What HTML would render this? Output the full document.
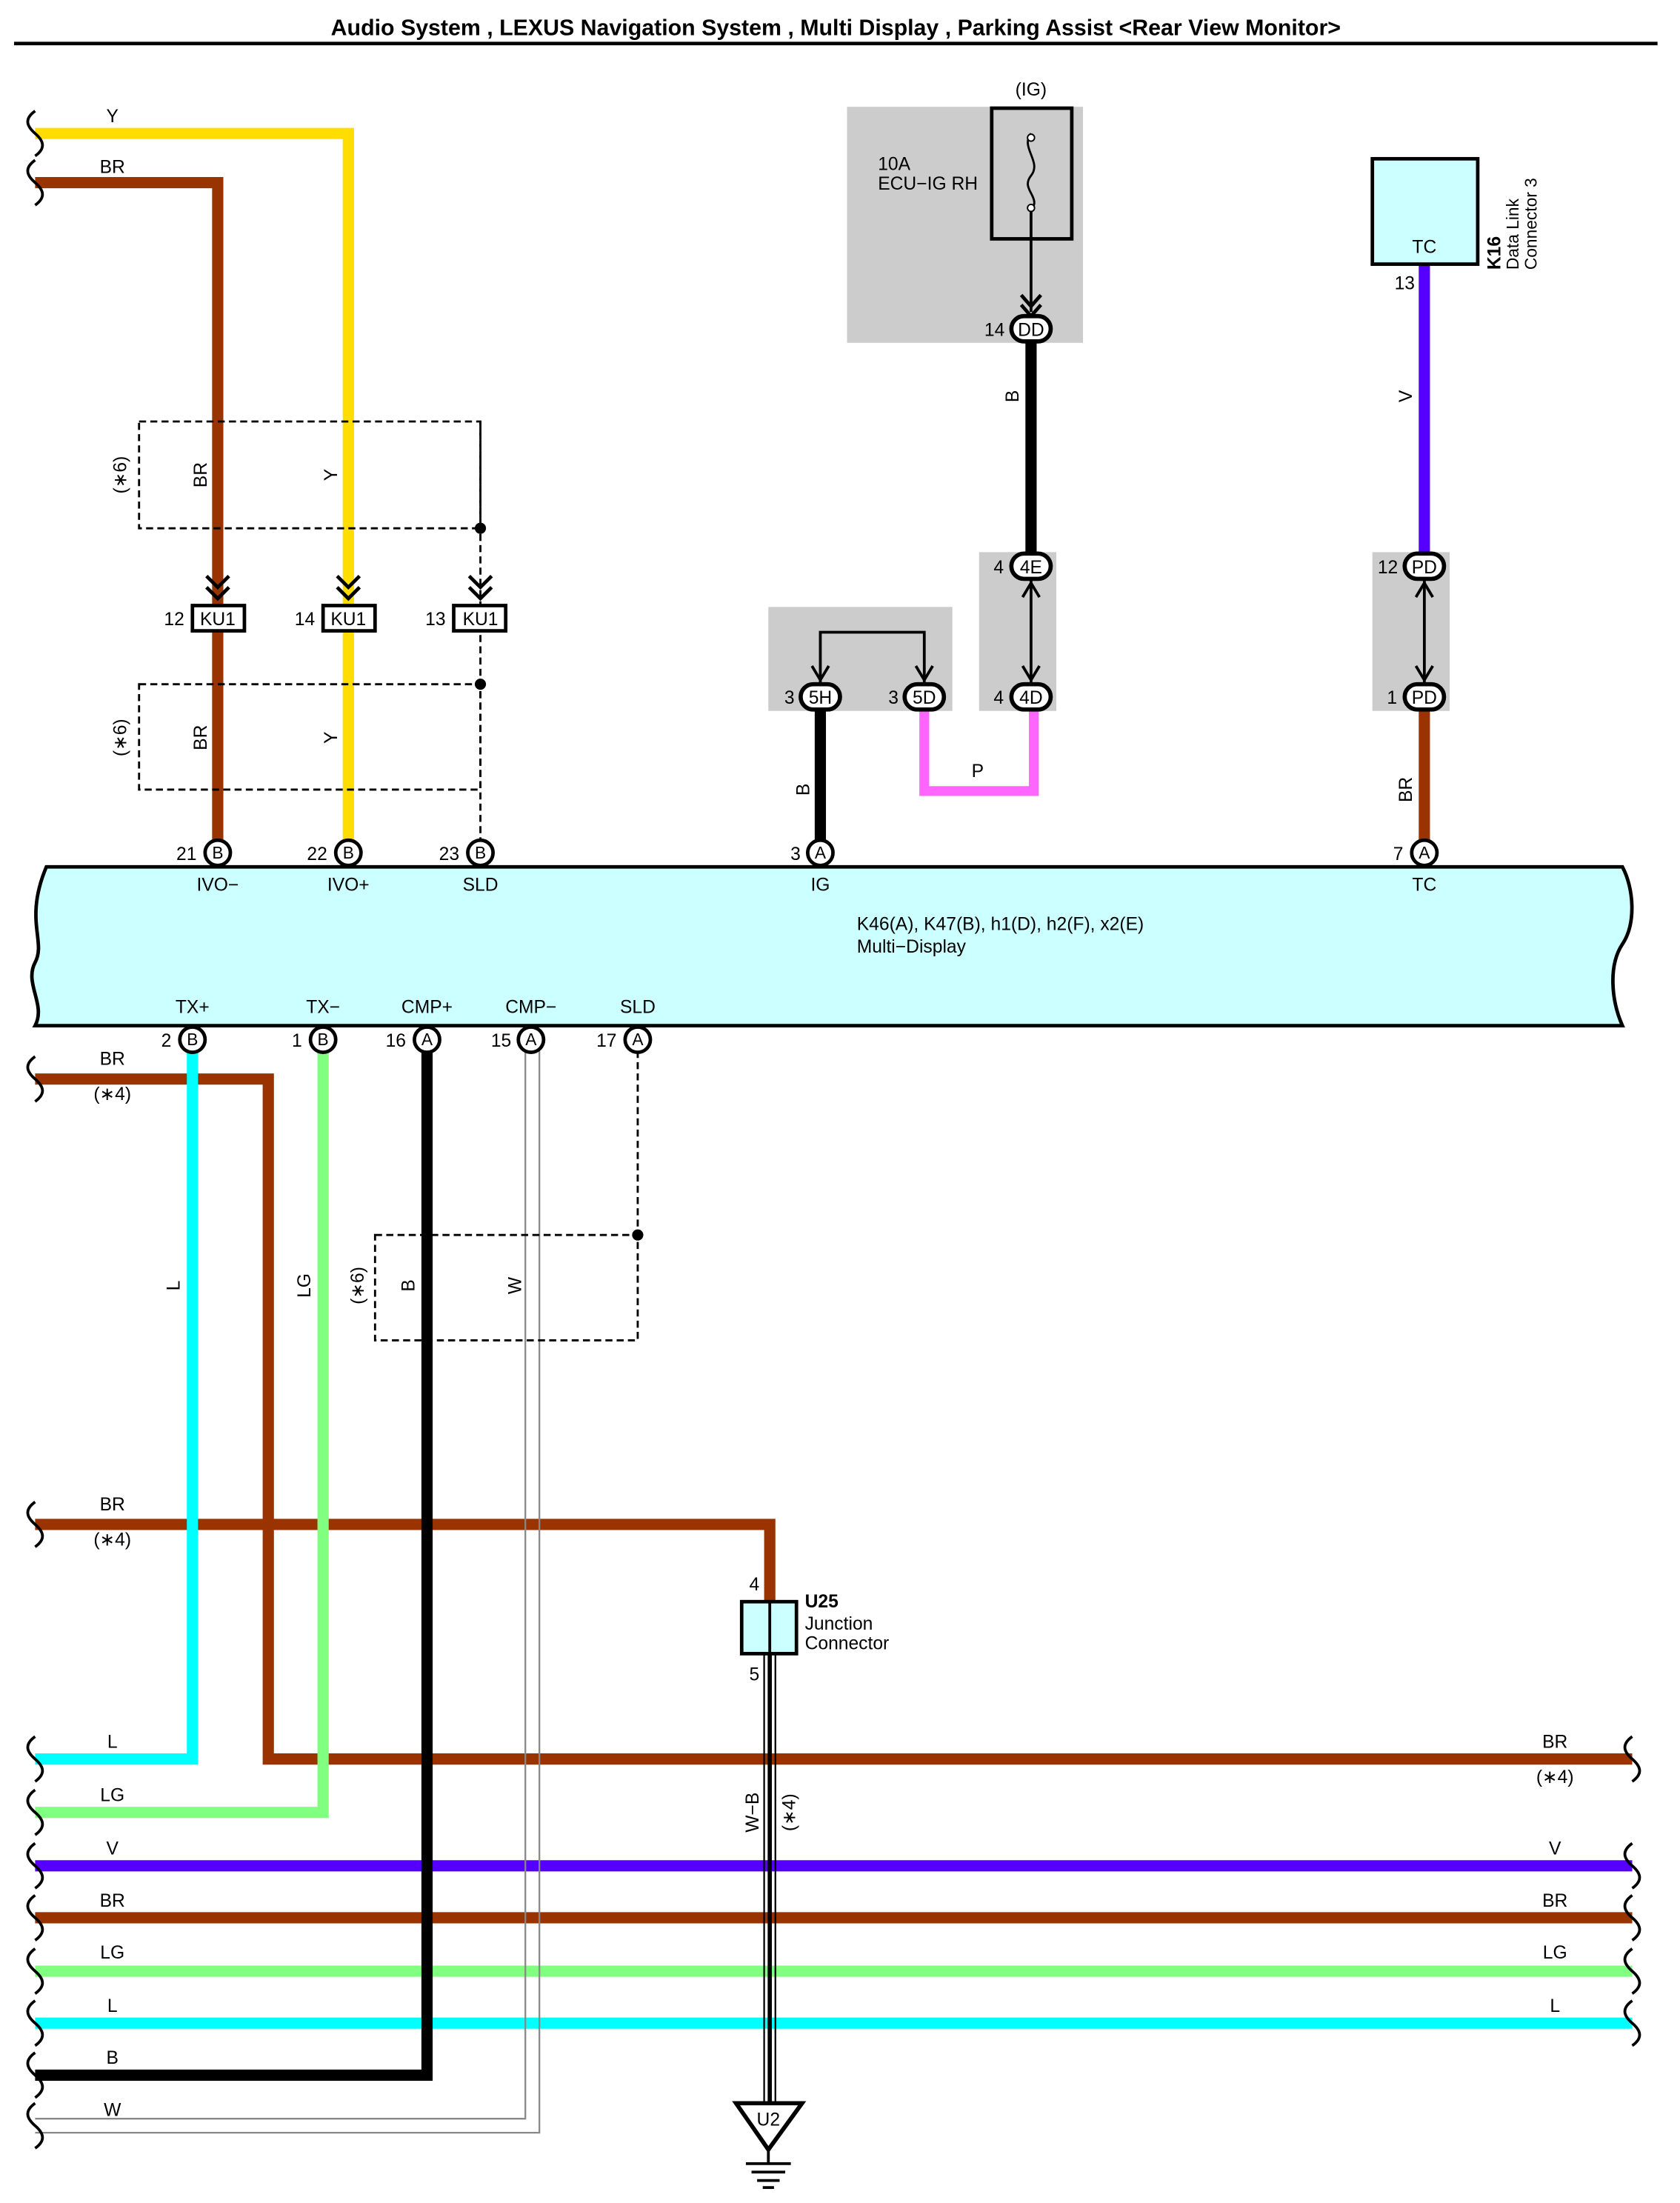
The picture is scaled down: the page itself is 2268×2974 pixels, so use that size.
<!DOCTYPE html>
<html><head><meta charset="utf-8"><style>
html,body{margin:0;padding:0;background:#fff}
svg{display:block}
text{font-family:"Liberation Sans",sans-serif;font-size:13px;fill:#000}
</style></head><body>
<svg width="2268" height="2974" viewBox="0 0 1196 1568" preserveAspectRatio="none" xmlns="http://www.w3.org/2000/svg">
<defs>
<g id="brk"><path d="M0,-16 c-7,5 -7,10 0,16 c7,6 7,11 0,16" fill="none" stroke="#000" stroke-width="2"/></g>
</defs>
<text x="595" y="25" text-anchor="middle" font-weight="bold" style="font-size:16px">Audio System , LEXUS Navigation System , Multi Display , Parking Assist &lt;Rear View Monitor&gt;</text>
<line x1="10" y1="31" x2="1180" y2="31" stroke="#000" stroke-width="2.5"/>

<rect x="603" y="76" width="168" height="168" fill="#ccc"/>
<rect x="697" y="393" width="55" height="113" fill="#ccc"/>
<rect x="547" y="432" width="131" height="74" fill="#ccc"/>
<rect x="977" y="393" width="55" height="113" fill="#ccc"/>

<g fill="none" stroke-linejoin="miter">
<path d="M25,95 H248 V607" stroke="#ffdd00" stroke-width="8"/>
<path d="M25,130 H155 V607" stroke="#993300" stroke-width="8"/>
<path d="M734,244 V403" stroke="#000" stroke-width="8"/>
<path d="M1014,188 V403" stroke="#5500ff" stroke-width="8"/>
<path d="M1014,506 V607" stroke="#993300" stroke-width="8"/>
<path d="M584,506 V607" stroke="#000" stroke-width="8"/>
<path d="M658,506 V563 H736 V506" stroke="#ff66ff" stroke-width="7"/>
</g>
<use href="#brk" x="25" y="95"/><use href="#brk" x="25" y="130"/>
<text x="80" y="87" text-anchor="middle">Y</text>
<text x="80" y="123" text-anchor="middle">BR</text>

<g fill="none" stroke="#000" stroke-width="1.5" stroke-dasharray="5,3">
<rect x="99" y="300" width="243" height="76"/>
<rect x="99" y="487" width="243" height="75"/>
<line x1="342" y1="300" x2="342" y2="599"/>
</g>
<circle cx="342" cy="376" r="4"/><circle cx="342" cy="487" r="4"/>
<g text-anchor="middle">
<text transform="translate(90,338) rotate(-90)">(∗6)</text>
<text transform="translate(147,338) rotate(-90)">BR</text>
<text transform="translate(240,338) rotate(-90)">Y</text>
<text transform="translate(90,525) rotate(-90)">(∗6)</text>
<text transform="translate(147,525) rotate(-90)">BR</text>
<text transform="translate(240,525) rotate(-90)">Y</text>
</g>
<g fill="none" stroke="#000" stroke-width="2.5">
<path d="M147,410 l8,8 l8,-8 M147,418 l8,8 l8,-8"/>
<path d="M240,410 l8,8 l8,-8 M240,418 l8,8 l8,-8"/>
<path d="M334,410 l8,8 l8,-8 M334,418 l8,8 l8,-8"/>
</g>
<g stroke="#000" stroke-width="2.5" fill="#fff">
<rect x="137" y="431" width="37" height="18"/>
<rect x="230" y="431" width="37" height="18"/>
<rect x="323" y="431" width="37" height="18"/>
</g>
<g text-anchor="middle">
<text x="155" y="445">KU1</text><text x="248" y="445">KU1</text><text x="342" y="445">KU1</text>
<text x="124" y="445">12</text><text x="217" y="445">14</text><text x="310" y="445">13</text>
</g>

<rect x="706" y="77" width="57" height="93" fill="none" stroke="#000" stroke-width="2.5"/>
<path d="M734,95 c-8,10 8,20 0,30 c-8,10 8,15 0,25" fill="none" stroke="#000" stroke-width="1.5"/>
<circle cx="734" cy="98" r="2.5" fill="#fff" stroke="#000"/><circle cx="734" cy="148" r="2.5" fill="#fff" stroke="#000"/>
<line x1="734" y1="150" x2="734" y2="222" stroke="#000" stroke-width="2"/>
<path d="M727,210 l7,8 l7,-8 M727,217 l7,8 l7,-8" fill="none" stroke="#000" stroke-width="2.5"/>
<text x="734" y="68" text-anchor="middle">(IG)</text>
<text x="625" y="121">10A</text><text x="625" y="135">ECU−IG RH</text>
<text transform="translate(725,282) rotate(-90)" text-anchor="middle">B</text>
<text transform="translate(1005,282) rotate(-90)" text-anchor="middle">V</text>
<text transform="translate(576,562) rotate(-90)" text-anchor="middle">B</text>
<text transform="translate(1005,562) rotate(-90)" text-anchor="middle">BR</text>
<text x="696" y="553" text-anchor="middle">P</text>

<g stroke="#000" stroke-width="2" fill="none">
<line x1="734" y1="413" x2="734" y2="486"/>
<path d="M728,425 l6,-10 l6,10 M728,474 l6,10 l6,-10"/>
<line x1="1014" y1="413" x2="1014" y2="486"/>
<path d="M1008,425 l6,-10 l6,10 M1008,474 l6,10 l6,-10"/>
<path d="M584,486 V450 H658 V486"/>
<path d="M578,474 l6,10 l6,-10 M652,474 l6,10 l6,-10"/>
</g>

<g stroke="#000" stroke-width="3" fill="#fff">
<rect x="720" y="225" width="28" height="18" rx="9"/>
<rect x="720" y="394" width="28" height="18" rx="9"/>
<rect x="720" y="487" width="28" height="18" rx="9"/>
<rect x="570" y="487" width="28" height="18" rx="9"/>
<rect x="644" y="487" width="28" height="18" rx="9"/>
<rect x="1000" y="394" width="28" height="18" rx="9"/>
<rect x="1000" y="487" width="28" height="18" rx="9"/>
</g>
<g text-anchor="middle">
<text x="734" y="239">DD</text><text x="708" y="239">14</text>
<text x="734" y="408">4E</text><text x="711" y="408">4</text>
<text x="734" y="501">4D</text><text x="711" y="501">4</text>
<text x="584" y="501">5H</text><text x="562" y="501">3</text>
<text x="658" y="501">5D</text><text x="636" y="501">3</text>
<text x="1014" y="408">PD</text><text x="988" y="408">12</text>
<text x="1014" y="501">PD</text><text x="991" y="501">1</text>
</g>

<rect x="977" y="113" width="75" height="75" fill="#ccffff" stroke="#000" stroke-width="2.5"/>
<text x="1014" y="180" text-anchor="middle">TC</text>
<text x="1000" y="206" text-anchor="middle">13</text>
<text transform="translate(1068,192) rotate(-90)" font-weight="bold">K16</text>
<text transform="translate(1081,192) rotate(-90)" style="font-size:12px">Data Link</text>
<text transform="translate(1094,192) rotate(-90)" style="font-size:12px">Connector 3</text>

<path d="M33,617 H1155 c8,15 10,40 0,55 c-10,15 -8,40 0,58 H25 c8,-15 -8,-30 0,-45 c8,-15 -8,-30 8,-68 Z" fill="#ccffff" stroke="#000" stroke-width="2.5"/>
<text x="610" y="662">K46(A), K47(B), h1(D), h2(F), x2(E)</text>
<text x="610" y="678">Multi−Display</text>
<g text-anchor="middle">
<text x="155" y="634">IVO−</text><text x="248" y="634">IVO+</text><text x="342" y="634">SLD</text>
<text x="584" y="634">IG</text><text x="1014" y="634">TC</text>
<text x="137" y="721">TX+</text><text x="230" y="721">TX−</text><text x="304" y="721">CMP+</text><text x="378" y="721">CMP−</text><text x="454" y="721">SLD</text>
</g>

<g fill="none">
<path d="M25,768 H191 V1252 H1162" stroke="#993300" stroke-width="8"/>
<path d="M25,1085 H548 V1140" stroke="#993300" stroke-width="8"/>
<path d="M25,1328 H1162" stroke="#5500ff" stroke-width="8"/>
<path d="M25,1365 H1162" stroke="#993300" stroke-width="8"/>
<path d="M25,1403 H1162" stroke="#80ff80" stroke-width="8"/>
<path d="M25,1440 H1162" stroke="#00ffff" stroke-width="8"/>
<path d="M137,748 V1252 H25" stroke="#00ffff" stroke-width="8"/>
<path d="M230,748 V1290 H25" stroke="#80ff80" stroke-width="8"/>
<path d="M304,748 V1477 H25" stroke="#000" stroke-width="8"/>
<path d="M374,748 V1508 H25 M384,748 V1518 H25" stroke="#888" stroke-width="1.2"/>
<path d="M544,1177 V1497 M552,1177 V1497" stroke="#000" stroke-width="1.2"/>
<path d="M548,1177 V1497" stroke="#000" stroke-width="3"/>
</g>
<line x1="454" y1="748" x2="454" y2="879" stroke="#000" stroke-width="1.5" stroke-dasharray="5,3"/>
<rect x="267" y="879" width="187" height="75" fill="none" stroke="#000" stroke-width="1.5" stroke-dasharray="5,3"/>
<circle cx="454" cy="879" r="4"/>
<g text-anchor="middle">
<text transform="translate(128,915) rotate(-90)">L</text>
<text transform="translate(221,915) rotate(-90)">LG</text>
<text transform="translate(259,915) rotate(-90)">(∗6)</text>
<text transform="translate(295,915) rotate(-90)">B</text>
<text transform="translate(371,915) rotate(-90)">W</text>
<text transform="translate(540,1290) rotate(-90)">W−B</text>
<text transform="translate(566,1290) rotate(-90)">(∗4)</text>
<text x="80" y="758">BR</text><text x="80" y="783">(∗4)</text>
<text x="80" y="1075">BR</text><text x="80" y="1100">(∗4)</text>
<text x="80" y="1244">L</text><text x="80" y="1282">LG</text><text x="80" y="1320">V</text>
<text x="80" y="1357">BR</text><text x="80" y="1394">LG</text><text x="80" y="1432">L</text>
<text x="80" y="1469">B</text><text x="80" y="1506">W</text>
<text x="1107" y="1244">BR</text><text x="1107" y="1269">(∗4)</text>
<text x="1107" y="1320">V</text><text x="1107" y="1357">BR</text><text x="1107" y="1394">LG</text><text x="1107" y="1432">L</text>
</g>
<g>
<use href="#brk" x="25" y="768"/><use href="#brk" x="25" y="1085"/><use href="#brk" x="25" y="1252"/>
<use href="#brk" x="25" y="1290"/><use href="#brk" x="25" y="1328"/><use href="#brk" x="25" y="1365"/>
<use href="#brk" x="25" y="1403"/><use href="#brk" x="25" y="1440"/><use href="#brk" x="25" y="1477"/>
<use href="#brk" x="25" y="1513"/>
<use href="#brk" x="1162" y="1252"/><use href="#brk" x="1162" y="1328"/><use href="#brk" x="1162" y="1365"/>
<use href="#brk" x="1162" y="1403"/><use href="#brk" x="1162" y="1440"/>
</g>

<rect x="528" y="1140" width="39" height="37" fill="#ccffff" stroke="#000" stroke-width="2.5"/>
<line x1="548" y1="1140" x2="548" y2="1177" stroke="#000" stroke-width="2"/>
<text x="537" y="1132" text-anchor="middle">4</text>
<text x="537" y="1196" text-anchor="middle">5</text>
<text x="573" y="1144" font-weight="bold">U25</text>
<text x="573" y="1160">Junction</text>
<text x="573" y="1174">Connector</text>

<path d="M524,1497 H571 L547,1530 Z" fill="#fff" stroke="#000" stroke-width="3"/>
<text x="547" y="1513" text-anchor="middle">U2</text>
<g stroke="#000" stroke-width="2">
<line x1="547" y1="1530" x2="547" y2="1540"/>
<line x1="531" y1="1540" x2="563" y2="1540"/>
<line x1="535" y1="1546" x2="559" y2="1546"/>
<line x1="539" y1="1552" x2="555" y2="1552"/>
<line x1="543" y1="1557" x2="551" y2="1557"/>
</g>

<g stroke="#000" stroke-width="2.5" fill="#fff">
<circle cx="155" cy="607" r="9"/><circle cx="248" cy="607" r="9"/><circle cx="342" cy="607" r="9"/>
<circle cx="584" cy="607" r="9"/><circle cx="1014" cy="607" r="9"/>
<circle cx="137" cy="740" r="9"/><circle cx="230" cy="740" r="9"/><circle cx="304" cy="740" r="9"/>
<circle cx="378" cy="740" r="9"/><circle cx="454" cy="740" r="9"/>
</g>
<g text-anchor="middle">
<text x="155" y="611" style="font-size:12px">B</text><text x="248" y="611" style="font-size:12px">B</text><text x="342" y="611" style="font-size:12px">B</text>
<text x="584" y="611" style="font-size:12px">A</text><text x="1014" y="611" style="font-size:12px">A</text>
<text x="137" y="744" style="font-size:12px">B</text><text x="230" y="744" style="font-size:12px">B</text><text x="304" y="744" style="font-size:12px">A</text>
<text x="378" y="744" style="font-size:12px">A</text><text x="454" y="744" style="font-size:12px">A</text>
</g>
<g text-anchor="end">
<text x="140" y="612">21</text><text x="233" y="612">22</text><text x="327" y="612">23</text>
<text x="570" y="612">3</text><text x="999" y="612">7</text>
<text x="122" y="745">2</text><text x="215" y="745">1</text><text x="289" y="745">16</text>
<text x="364" y="745">15</text><text x="439" y="745">17</text>
</g>
</svg>
</body></html>
